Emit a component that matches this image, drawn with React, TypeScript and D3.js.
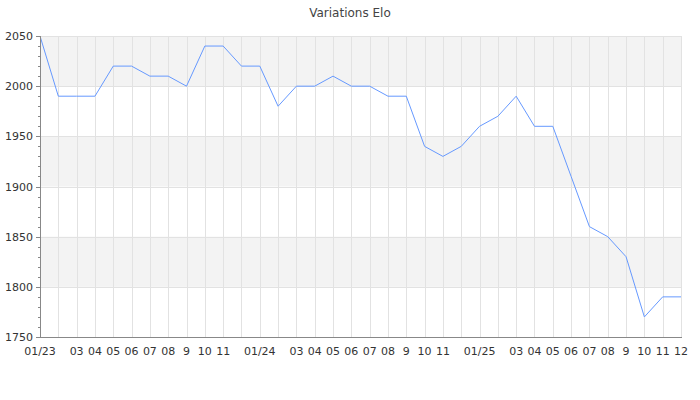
import React from "react";
import * as d3 from "d3";

const tickLabels = [
  "01/23", "", "03", "04", "05", "06", "07", "08", "9", "10", "11", "",
  "01/24", "", "03", "04", "05", "06", "07", "08", "9", "10", "11", "",
  "01/25", "", "03", "04", "05", "06", "07", "08", "9", "10", "11", "12",
];
const eloValues = [
  2050, 1990, 1990, 1990, 2020, 2020, 2010, 2010, 2000, 2040, 2040, 2020,
  2020, 1980, 2000, 2000, 2010, 2000, 2000, 1990, 1990, 1940, 1930, 1940,
  1960, 1970, 1990, 1960, 1960, 1910, 1860, 1850, 1830, 1770, 1790, 1790,
];
const yMajorTicks = [1750, 1800, 1850, 1900, 1950, 2000, 2050];
const title = "Variations Elo";

const W = 700, H = 400;
const L = 40, R = 681, T = 36, B = 337;
const FONT = "DejaVu Sans, sans-serif";

export default function App() {
  const x = d3.scaleLinear().domain([0, eloValues.length - 1]).range([L, R]);
  const y = d3.scaleLinear().domain([1750, 2050]).range([B, T]);
  const line = d3.line<number>().x((_, i) => x(i)).y((d) => y(d));
  const minor = d3.range(1750, 2051, 10);
  const bands = [];
  for (let i = 0; i < yMajorTicks.length - 1; i++) {
    const lo = yMajorTicks[i], hi = yMajorTicks[i + 1];
    if (i % 2 === 1) bands.push([lo, hi]);
  }
  return (
    <svg width={W} height={H} style={{ position: "absolute", left: 0, top: 0, fontFamily: FONT }}>
      <rect width={W} height={H} fill="#fff" />
      <text x={350} y={17} textAnchor="middle" fontSize={12} fill="#444">{title}</text>
      {bands.map(([lo, hi], i) => (
        <rect key={i} x={L} width={R - L} y={y(hi)} height={y(lo) - y(hi)} fill="#f3f3f3" />
      ))}
      {eloValues.map((_, i) => (
        <line key={"v" + i} x1={Math.round(x(i)) + 0.5} x2={Math.round(x(i)) + 0.5} y1={T} y2={B} stroke="#e2e2e2" />
      ))}
      {yMajorTicks.map((t) => (
        <line key={"h" + t} x1={L} x2={R} y1={Math.round(y(t)) + 0.5} y2={Math.round(y(t)) + 0.5} stroke="#e2e2e2" />
      ))}
      <path d={line(eloValues) || ""} fill="none" stroke="#6699ff" strokeWidth={1} />
      <line x1={L + 0.5} x2={L + 0.5} y1={T} y2={B} stroke="#888" />
      <line x1={L} x2={R + 1} y1={B + 0.5} y2={B + 0.5} stroke="#888" />
      {minor.map((t) => {
        const major = t % 50 === 0;
        const yy = Math.round(y(t)) + 0.5;
        return <line key={"t" + t} x1={L - (major ? 4 : 2)} x2={L} y1={yy} y2={yy} stroke="#888" />;
      })}
      {yMajorTicks.map((t) => (
        <text key={"l" + t} x={33} y={y(t) + 4} textAnchor="end" fontSize={11} fill="#333">{t}</text>
      ))}
      {tickLabels.map((s, i) =>
        s ? (
          <text key={"x" + i} x={x(i)} y={355} textAnchor="middle" fontSize={11} fill="#333">{s}</text>
        ) : null
      )}
    </svg>
  );
}
